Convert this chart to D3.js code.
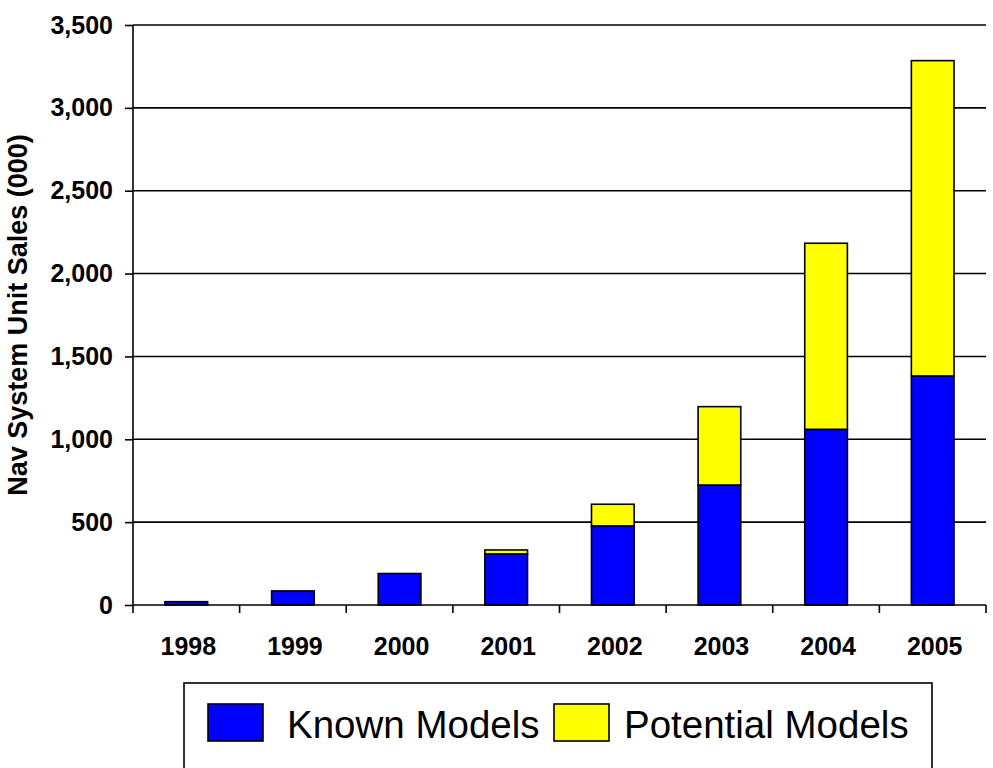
<!DOCTYPE html>
<html>
<head>
<meta charset="utf-8">
<script src="https://cdn.jsdelivr.net/npm/d3@7"></script>
<style>
  html, body { margin: 0; padding: 0; background: #fff; }
  svg { display: block; }
  text { font-family: Arial, "Liberation Sans", sans-serif; }
</style>
</head>
<body>
<svg id="chart" width="993" height="768"></svg>
<script>
const years = ["1998", "1999", "2000", "2001", "2002", "2003", "2004", "2005"];
const knownModels = [20, 85, 190, 308, 477, 724, 1060, 1382];
const potentialModels = [0, 0, 0, 24, 131, 473, 1123, 1903];
const yTicks = [0, 500, 1000, 1500, 2000, 2500, 3000, 3500];
const seriesNames = ["Known Models", "Potential Models"];
const seriesColors = ["#0000FF", "#FFFF00"];
const yTitle = "Nav System Unit Sales (000)";

(function () {
const svg = d3.select("#chart");
const pL = 133, pR = 986, pT = 25, pB = 605;

const x = d3.scaleBand().domain(years).range([pL, pR]).paddingInner(0.6).paddingOuter(0.3);
const y = d3.scaleLinear().domain([0, 3500]).range([pB, pT]);

const rows = years.map((yr, i) => ({ year: yr, known: knownModels[i], potential: potentialModels[i] }));
const stacked = d3.stack().keys(["known", "potential"])(rows);

// gridlines
svg.append("g").selectAll("line").data(yTicks.filter(t => t > 0)).join("line")
  .attr("x1", pL).attr("x2", pR)
  .attr("y1", d => y(d)).attr("y2", d => y(d))
  .attr("stroke", "#000").attr("stroke-width", 1.6);

// bars
const gBars = svg.append("g");
stacked.forEach((s, si) => {
  gBars.append("g").selectAll("rect").data(s.filter(d => d[1] - d[0] > 0)).join("rect")
    .attr("x", d => x(d.data.year))
    .attr("width", x.bandwidth())
    .attr("y", d => y(d[1]))
    .attr("height", d => y(d[0]) - y(d[1]))
    .attr("fill", seriesColors[si])
    .attr("stroke", "#000").attr("stroke-width", 1.6);
});

// y axis
const yAxis = d3.axisLeft(y).tickValues(yTicks).tickSize(8).tickPadding(12)
  .tickFormat(d3.format(","));
const gy = svg.append("g").attr("transform", `translate(${pL},0)`).call(yAxis);
gy.select(".domain").attr("stroke", "#000").attr("stroke-width", 1.6).attr("d", `M0,${pT}V${pB}`);
gy.selectAll(".tick line").attr("stroke", "#000").attr("stroke-width", 1.6);
gy.selectAll(".tick text").attr("font-size", "25px").attr("font-weight", "bold")
  .attr("fill", "#000").attr("font-family", "Arial, 'Liberation Sans', sans-serif");

// x axis
const xAxis = d3.axisBottom(x).tickSize(0).tickPadding(32);
const gx = svg.append("g").attr("transform", `translate(0,${pB})`).call(xAxis);
gx.select(".domain").attr("stroke", "#000").attr("stroke-width", 1.6).attr("d", `M${pL},0H${pR}`);
gx.selectAll(".tick text").attr("font-size", "25px").attr("font-weight", "bold")
  .attr("fill", "#000").attr("font-family", "Arial, 'Liberation Sans', sans-serif")
  .attr("dy", "0.71em").attr("dx", "2");
// boundary ticks
const step = x.step();
svg.append("g").selectAll("line").data(d3.range(years.length + 1)).join("line")
  .attr("x1", i => pL + i * step).attr("x2", i => pL + i * step)
  .attr("y1", pB).attr("y2", pB + 8)
  .attr("stroke", "#000").attr("stroke-width", 1.6);

// y title
svg.append("text")
  .attr("transform", `translate(27,${(pT + pB) / 2}) rotate(-90)`)
  .attr("text-anchor", "middle")
  .attr("font-size", "27px").attr("font-weight", "bold").attr("fill", "#000")
  .text(yTitle);

// legend
const lg = svg.append("g");
lg.append("rect").attr("x", 184).attr("y", 683).attr("width", 748).attr("height", 100)
  .attr("fill", "#fff").attr("stroke", "#000").attr("stroke-width", 1.6);
const legendPos = [{ sx: 208, tx: 287 }, { sx: 554, tx: 624 }];
seriesNames.forEach((n, i) => {
  lg.append("rect").attr("x", legendPos[i].sx).attr("y", 704).attr("width", 55).attr("height", 37)
    .attr("fill", seriesColors[i]).attr("stroke", "#000").attr("stroke-width", 1.6);
  lg.append("text").attr("x", legendPos[i].tx).attr("y", 738)
    .attr("font-size", "38.5px").attr("fill", "#000").text(n);
});
})();
</script>
</body>
</html>
